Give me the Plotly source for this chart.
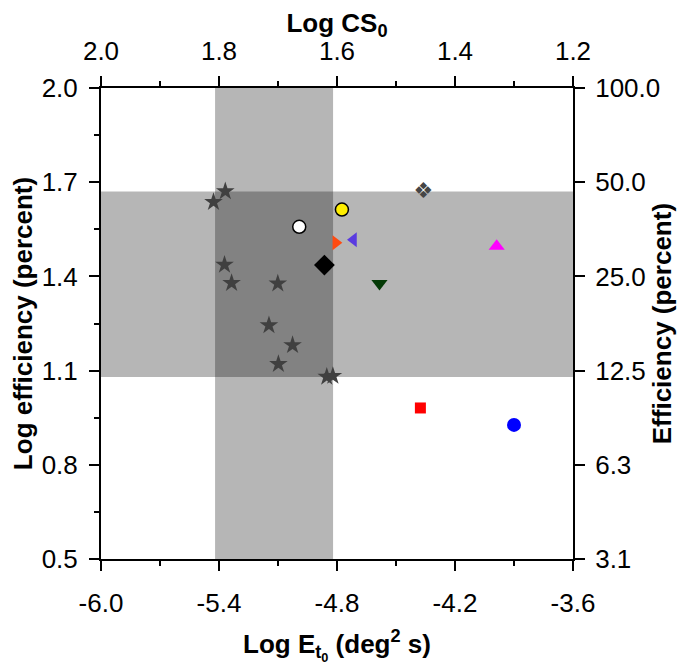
import plotly.graph_objects as go

# ---------------- data ----------------
star_x = [-5.428, -5.368, -5.372, -5.336, -5.101, -5.146, -5.026, -5.098, -4.852, -4.821]
star_y = [1.637, 1.671, 1.437, 1.379, 1.377, 1.244, 1.181, 1.121, 1.080, 1.083]

point_names = ["white circle", "yellow circle", "orange triangle", "violet triangle",
               "black diamond", "green triangle", "gray clover", "magenta triangle",
               "red square", "blue circle"]
point_x = [-4.992, -4.775, -4.806, -4.716, -4.864, -4.584, -4.361, -3.988, -4.376, -3.900]
point_y = [1.558, 1.613, 1.507, 1.517, 1.436, 1.377, 1.667, 1.496, 0.981, 0.927]

band_x = [-5.42, -4.82]     # shaded Log E range
band_y = [1.08, 1.67]       # shaded Log efficiency range

x_ticks = [-6.0, -5.4, -4.8, -4.2, -3.6]
x_tick_labels = ["-6.0", "-5.4", "-4.8", "-4.2", "-3.6"]
cs_ticks = [2.0, 1.8, 1.6, 1.4, 1.2]
cs_tick_labels = ["2.0", "1.8", "1.6", "1.4", "1.2"]
y_ticks = [0.5, 0.8, 1.1, 1.4, 1.7, 2.0]
y_tick_labels = ["0.5", "0.8", "1.1", "1.4", "1.7", "2.0"]
eff_labels = ["3.1", "6.3", "12.5", "25.0", "50.0", "100.0"]

# ---------------- styles ----------------
styles = {
    "white circle":     dict(symbol="circle", size=13, color="white", line=dict(color="black", width=1.5)),
    "yellow circle":    dict(symbol="circle", size=13, color="#ffee00", line=dict(color="black", width=1.5)),
    "orange triangle":  dict(symbol="triangle-right", size=13, color="#ff4a10", line=dict(width=0)),
    "violet triangle":  dict(symbol="triangle-left", size=13, color="#5a3be0", line=dict(width=0)),
    "black diamond":    dict(symbol="diamond", size=16, color="black", line=dict(width=0)),
    "green triangle":   dict(symbol="triangle-down", size=14, color="#043a06", line=dict(width=0)),
    "magenta triangle": dict(symbol="triangle-up", size=14, color="#ff00ff", line=dict(width=0)),
    "red square":       dict(symbol="square", size=11, color="#ff0000", line=dict(width=0)),
    "blue circle":      dict(symbol="circle", size=14, color="#0000ff", line=dict(width=0)),
}

FONT = "Liberation Sans, Arial, Helvetica, sans-serif"
TICK_SIZE = 26
TITLE_SIZE = 26

fig = go.Figure()

fig.add_trace(go.Scatter(x=star_x, y=star_y, mode="markers",
                         marker=dict(symbol="star", size=14, color="#404040", line=dict(width=0)),
                         showlegend=False, hoverinfo="skip"))

for name, px, py in zip(point_names, point_x, point_y):
    if name == "gray clover":
        fig.add_trace(go.Scatter(x=[px], y=[py], mode="text", text=["❖"],
                                 textposition="middle center",
                                 textfont=dict(size=22, color="#454545", family="DejaVu Sans"),
                                 showlegend=False, hoverinfo="skip"))
    else:
        fig.add_trace(go.Scatter(x=[px], y=[py], mode="markers", marker=styles[name],
                                 showlegend=False, hoverinfo="skip"))

# invisible helper so the top and right axes are drawn
fig.add_trace(go.Scatter(x=[cs_ticks[0], cs_ticks[-1]], y=[y_ticks[0], y_ticks[-1]],
                         xaxis="x2", yaxis="y2", mode="markers",
                         marker=dict(opacity=0, size=1), showlegend=False, hoverinfo="skip"))

band_color = "rgba(0,0,0,0.285)"
fig.add_shape(type="rect", xref="x", yref="y domain", x0=band_x[0], x1=band_x[1], y0=0, y1=1,
              fillcolor=band_color, line=dict(width=0), layer="below")
fig.add_shape(type="rect", xref="x domain", yref="y", x0=0, x1=1, y0=band_y[0], y1=band_y[1],
              fillcolor=band_color, line=dict(width=0), layer="below")

def mids(v):
    return [(a + b) / 2 for a, b in zip(v[:-1], v[1:])]

common = dict(showline=True, linecolor="black", linewidth=2, ticks="outside", ticklen=10,
              tickwidth=2, tickcolor="black", showgrid=False, zeroline=False, automargin=False,
              tickfont=dict(family=FONT, size=TICK_SIZE, color="black"), tickmode="array")

minor = dict(ticklen=5, tickwidth=2, tickcolor="black", ticks="outside")
title_font = dict(family=FONT, size=TITLE_SIZE, color="black")

fig.update_layout(
    width=681, height=657,
    margin=dict(l=93, r=116, t=80, b=106),
    paper_bgcolor="white", plot_bgcolor="white",
    font=dict(family=FONT, color="black"),
    xaxis=dict(range=[x_ticks[0], x_ticks[-1]], tickvals=x_ticks, ticktext=x_tick_labels,
               minor=dict(tickvals=mids(x_ticks), **minor),
               title=dict(text="<b>Log E<sub>t<sub>0</sub></sub> (deg<sup>2</sup> s)</b>",
                          font=title_font, standoff=19),
               ticklabelstandoff=10,
               **common),
    xaxis2=dict(range=[cs_ticks[0], cs_ticks[-1]], overlaying="x", side="top", anchor="y",
                tickvals=cs_ticks, ticktext=cs_tick_labels,
                minor=dict(tickvals=mids(cs_ticks), **minor),
                title=dict(text="<b>Log CS<sub>0</sub></b>", font=title_font, standoff=6),
                ticklabelstandoff=6,
                **common),
    yaxis=dict(range=[y_ticks[0], y_ticks[-1]], tickvals=y_ticks, ticktext=y_tick_labels,
               minor=dict(tickvals=mids(y_ticks), **minor),
               title=dict(text="<b>Log efficiency (percent)</b>", font=title_font, standoff=8),
               ticklabelstandoff=6,
               **common),
    yaxis2=dict(range=[y_ticks[0], y_ticks[-1]], overlaying="y", side="right", anchor="x",
                tickvals=y_ticks, ticktext=eff_labels,
                ticklabelstandoff=5,
                **common),
    annotations=[dict(text="<b>Efficiency (percent)</b>", xref="paper", yref="paper",
                      x=1.188, y=0.5, xanchor="center", yanchor="middle", textangle=-90,
                      showarrow=False, font=title_font)],
)

fig.write_html("out.html")
